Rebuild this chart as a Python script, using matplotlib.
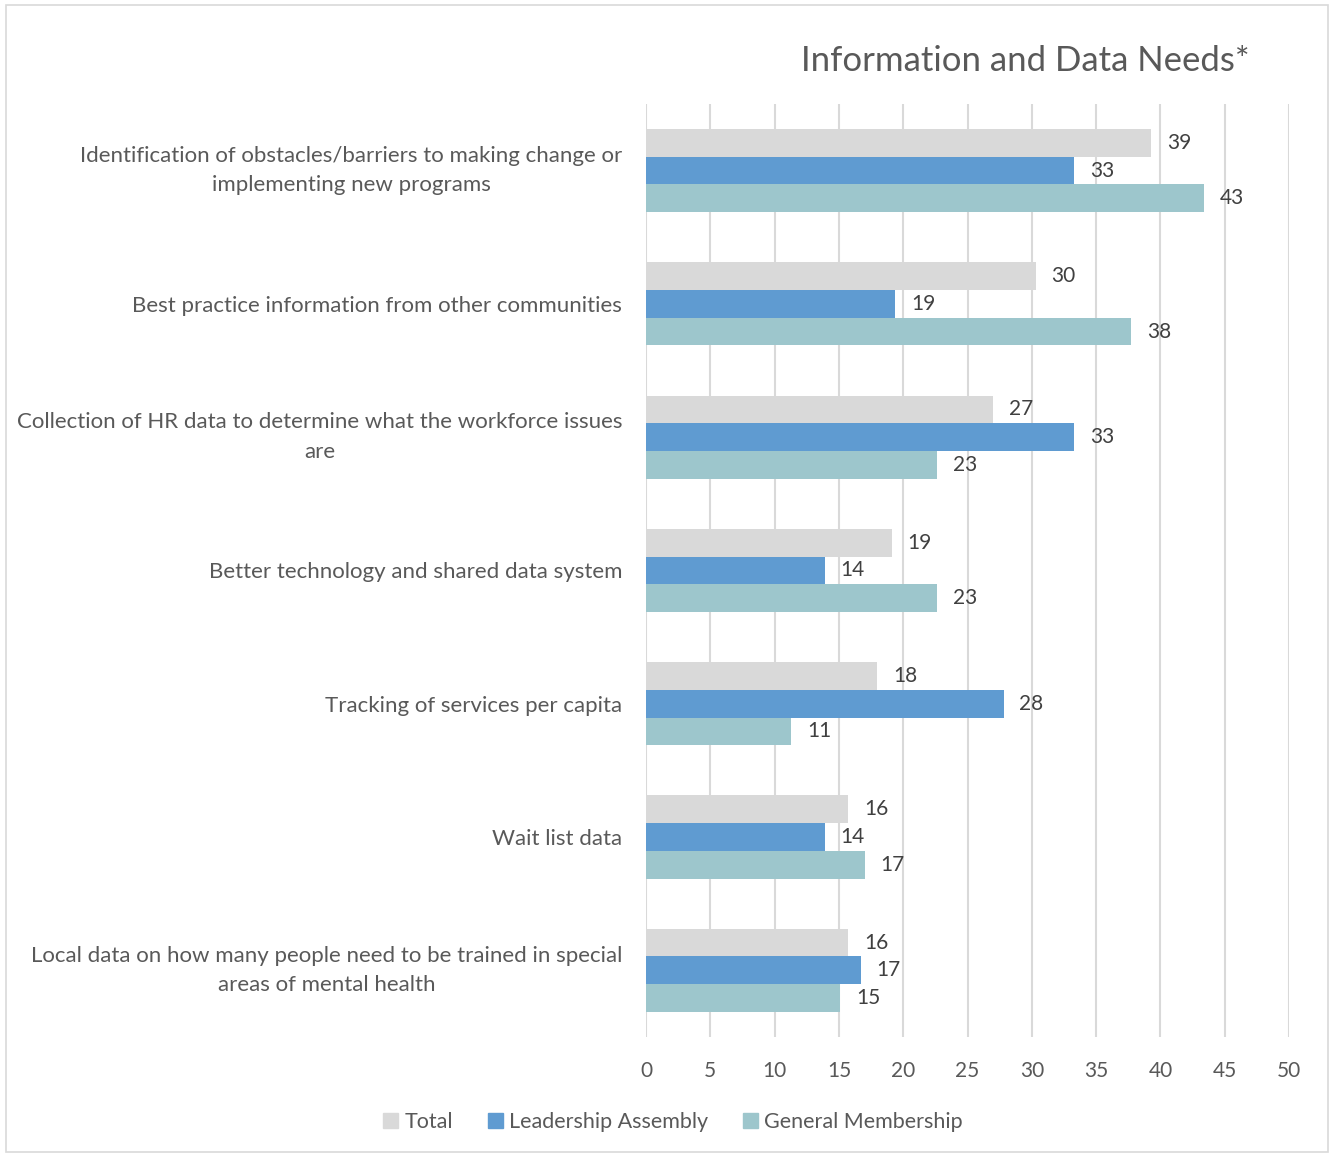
import numpy as np
import matplotlib
matplotlib.use('Agg')
from matplotlib import patches as mpatches
from matplotlib import pyplot as plt

plt.rcParams['font.family'] = ['Lato', 'DejaVu Sans']

categories = [
    'Identification of obstacles/barriers to making change or\nimplementing new programs',
    'Best practice information from other communities',
    'Collection of HR data to determine what the workforce issues\nare',
    'Better technology and shared data system',
    'Tracking of services per capita',
    'Wait list data',
    'Local data on how many people need to be trained in special\nareas of mental health',
]
total = [39.3, 30.3, 27.0, 19.1, 18.0, 15.7, 15.7]
leadership = [33.3, 19.4, 33.3, 13.9, 27.8, 13.9, 16.7]
general = [43.4, 37.7, 22.6, 22.6, 11.3, 17.0, 15.1]

series = [('Total', total, '#d9d9d9'),
          ('Leadership Assembly', leadership, '#5f9bd1'),
          ('General Membership', general, '#9dc6cc')]

TXT = '#595959'

fig = plt.figure(figsize=(13.3, 11.55), dpi=100)
ax = fig.add_axes([0.4857, 0.1022, 0.4835, 0.8078])

y = np.arange(len(categories))
h = 0.208
for k, (name, vals, col) in enumerate(series):
    pos = y + (k - 1) * h
    ax.barh(pos, vals, height=h, color=col, zorder=2)
    for p, v in zip(pos, vals):
        ax.annotate('%d' % round(v), (v, p), xytext=(11.5, 0),
                    textcoords='offset points', ha='left', va='center',
                    fontsize=15, color='#404040')

ax.set_xlim(0, 50)
ax.set_ylim(len(categories) - 0.5, -0.5)
ax.set_xticks(np.arange(0, 51, 5))
ax.set_yticks(y)
ax.set_yticklabels(categories, fontsize=16, color=TXT, linespacing=1.6)
for lab in ax.get_yticklabels():
    lab.set_multialignment('center')
    # two-line labels sit centred on their group
    if '\n' in lab.get_text():
        lab.set_verticalalignment('center')
ax.tick_params(axis='x', labelsize=15, labelcolor=TXT, length=0, pad=17)
ax.tick_params(axis='y', length=0, pad=17)
ax.grid(axis='x', color='#d9d9d9', linewidth=1.5, zorder=0)
for s in ['top', 'right', 'bottom', 'left']:
    ax.spines[s].set_visible(False)

fig.text(1025 / 1330, 1 - 61 / 1155, 'Information and Data Needs*',
         ha='center', va='center', fontsize=25, color=TXT)

patch = [mpatches.Patch(color=c, label=n) for n, _, c in series]
fig.legend(handles=patch, loc='center', ncol=3, frameon=False,
           bbox_to_anchor=(673 / 1330, 1 - 1122 / 1155), fontsize=15.5,
           handlelength=0.7, handleheight=0.7, handletextpad=0.3,
           columnspacing=1.6, labelcolor=TXT)

fig.patches.append(mpatches.Rectangle((6 / 1330, 3 / 1155), 1322 / 1330,
                                      1147 / 1155, transform=fig.transFigure,
                                      fill=False, edgecolor='#d9d9d9',
                                      linewidth=1.2))

plt.savefig('out.png')
